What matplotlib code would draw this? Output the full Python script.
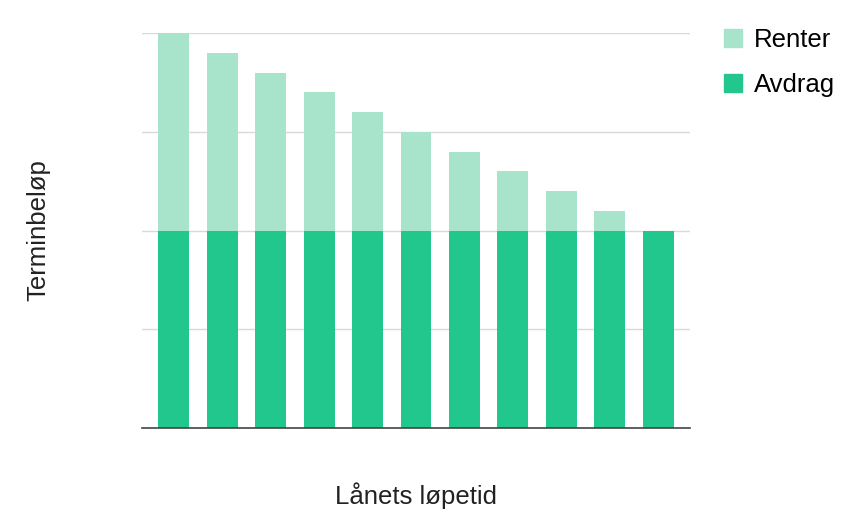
import matplotlib.pyplot as plt
from matplotlib.patches import Patch

# loan periods (no tick labels shown on the chart)
periods = list(range(1, 12))
avdrag = [2.0] * 11
renter = [2.0, 1.8, 1.6, 1.4, 1.2, 1.0, 0.8, 0.6, 0.4, 0.2, 0.0]

col_avdrag = "#22c78e"
col_renter = "#a8e3cb"

plt.rcParams["font.family"] = ["Liberation Sans", "DejaVu Sans"]

fig = plt.figure(figsize=(8.64, 5.14), dpi=100)
ax = fig.add_axes([142 / 864, 1 - 428 / 514, 548 / 864, 395 / 514])

x = list(range(len(periods)))
ax.bar(x, avdrag, width=0.64, color=col_avdrag, zorder=2)
ax.bar(x, renter, width=0.64, bottom=avdrag, color=col_renter, zorder=2)

ax.set_xlim(-0.66, len(periods) - 1 + 0.66)
ax.set_ylim(0, 4)
ax.set_yticks([0, 1, 2, 3, 4])
ax.set_xticks([])
ax.tick_params(axis="y", length=0, labelleft=False)
ax.grid(axis="y", color="#d9d9d9", linewidth=1, zorder=0)

for side in ["top", "right", "left"]:
    ax.spines[side].set_visible(False)
ax.spines["bottom"].set_color("#444444")
ax.spines["bottom"].set_linewidth(1.2)
ax.spines["bottom"].set_zorder(3)

ax.set_xlabel("Lånets løpetid", fontsize=18.5, labelpad=39, color="#222222")
ax.set_ylabel("Terminbeløp", fontsize=18.5, labelpad=66, color="#222222")

handles = [Patch(color=col_renter, label="Renter"), Patch(color=col_avdrag, label="Avdrag")]
fig.legend(handles=handles, loc="upper left", bbox_to_anchor=(724 / 864, 1 - 28 / 514),
           frameon=False, fontsize=18.5, handlelength=0.7, handleheight=0.7,
           handletextpad=0.45, labelspacing=0.82, borderaxespad=0, borderpad=0)

plt.savefig("out.png", dpi=100)
